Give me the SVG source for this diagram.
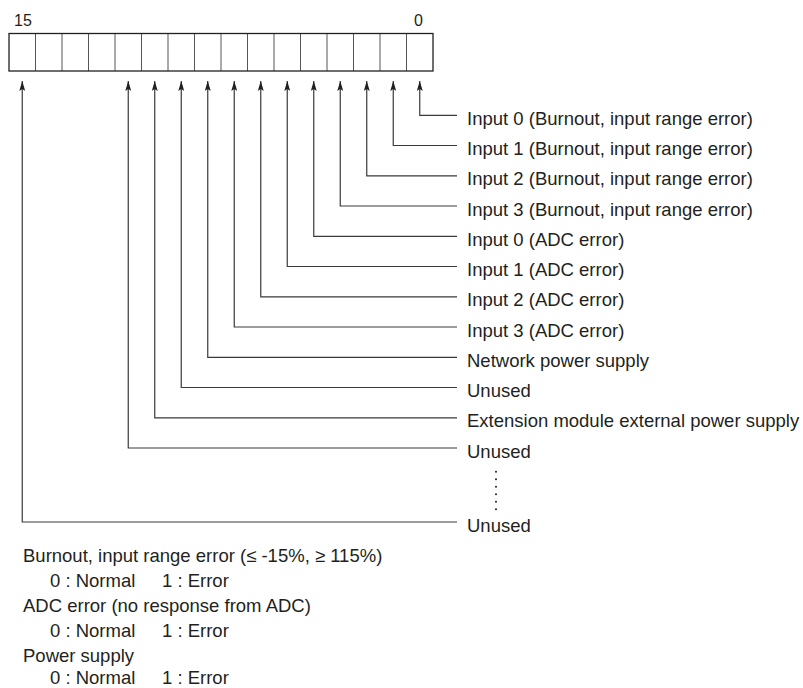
<svg xmlns="http://www.w3.org/2000/svg" width="803" height="688" viewBox="0 0 803 688">
<style>
text{font-family:"Liberation Sans",Arial,sans-serif;fill:#231f20}
.lbl{font-size:18.5px}
.bit{font-size:16px}
.conn{fill:none;stroke:#3a3a3a;stroke-width:1.2}
.cell{fill:none;stroke:#555;stroke-width:1}
</style>
<defs>
<marker id="ah" viewBox="0 0 10 6" refX="10" refY="3" markerWidth="10" markerHeight="6" markerUnits="userSpaceOnUse" orient="auto-start-reverse">
<path d="M0,0 L10,3 L0,6 L2,3 z" fill="#231f20"/>
</marker>
</defs>
<g id="register">
<text class="bit" x="14" y="26">15</text>
<text class="bit" x="414" y="26">0</text>
<g class="cell">
<line x1="35.5" y1="33.5" x2="35.5" y2="71"/>
<line x1="62" y1="33.5" x2="62" y2="71"/>
<line x1="88.5" y1="33.5" x2="88.5" y2="71"/>
<line x1="115" y1="33.5" x2="115" y2="71"/>
<line x1="141.5" y1="33.5" x2="141.5" y2="71"/>
<line x1="168" y1="33.5" x2="168" y2="71"/>
<line x1="194.5" y1="33.5" x2="194.5" y2="71"/>
<line x1="221" y1="33.5" x2="221" y2="71"/>
<line x1="247.5" y1="33.5" x2="247.5" y2="71"/>
<line x1="274" y1="33.5" x2="274" y2="71"/>
<line x1="300.5" y1="33.5" x2="300.5" y2="71"/>
<line x1="327" y1="33.5" x2="327" y2="71"/>
<line x1="353.5" y1="33.5" x2="353.5" y2="71"/>
<line x1="380" y1="33.5" x2="380" y2="71"/>
<line x1="406.5" y1="33.5" x2="406.5" y2="71"/>
</g>
<rect x="9" y="33.5" width="424" height="37.5" fill="none" stroke="#231f20" stroke-width="1.3"/>
</g>
<g id="connectors" class="conn" marker-start="url(#ah)">
<path d="M419.75,81 V115.3 H457"/>
<path d="M393.25,81 V145.5 H457"/>
<path d="M366.75,81 V175.8 H457"/>
<path d="M340.25,81 V206 H457"/>
<path d="M313.75,81 V236.3 H457"/>
<path d="M287.25,81 V266.5 H457"/>
<path d="M260.75,81 V296.8 H457"/>
<path d="M234.25,81 V327 H457"/>
<path d="M207.75,81 V357.3 H457"/>
<path d="M181.25,81 V387.5 H457"/>
<path d="M154.75,81 V417.8 H457"/>
<path d="M128.25,81 V448 H457"/>
<path d="M22.25,81 V522 H457"/>
</g>
<g id="labels" class="lbl">
<text x="467" y="124.8">Input 0 (Burnout, input range error)</text>
<text x="467" y="155">Input 1 (Burnout, input range error)</text>
<text x="467" y="185.3">Input 2 (Burnout, input range error)</text>
<text x="467" y="215.5">Input 3 (Burnout, input range error)</text>
<text x="467" y="245.8">Input 0 (ADC error)</text>
<text x="467" y="276">Input 1 (ADC error)</text>
<text x="467" y="306.3">Input 2 (ADC error)</text>
<text x="467" y="336.5">Input 3 (ADC error)</text>
<text x="467" y="366.8">Network power supply</text>
<text x="467" y="397">Unused</text>
<text x="467" y="427.3">Extension module external power supply</text>
<text x="467" y="457.5">Unused</text>
<text x="467" y="531.5">Unused</text>
</g>
<g id="ellipsis" fill="#231f20">
<circle cx="496" cy="471.7" r="1"/>
<circle cx="496" cy="479.2" r="1"/>
<circle cx="496" cy="486.7" r="1"/>
<circle cx="496" cy="494.2" r="1"/>
<circle cx="496" cy="501.7" r="1"/>
<circle cx="496" cy="509.2" r="1"/>
</g>
<g id="legend" class="lbl">
<text x="23" y="561.7">Burnout, input range error (≤ -15%, ≥ 115%)</text>
<text x="50" y="587">0 : Normal</text>
<text x="162" y="587">1 : Error</text>
<text x="23" y="611.7">ADC error (no response from ADC)</text>
<text x="50" y="637">0 : Normal</text>
<text x="162" y="637">1 : Error</text>
<text x="23" y="661.5">Power supply</text>
<text x="50" y="683.5">0 : Normal</text>
<text x="162" y="683.5">1 : Error</text>
</g>
</svg>
